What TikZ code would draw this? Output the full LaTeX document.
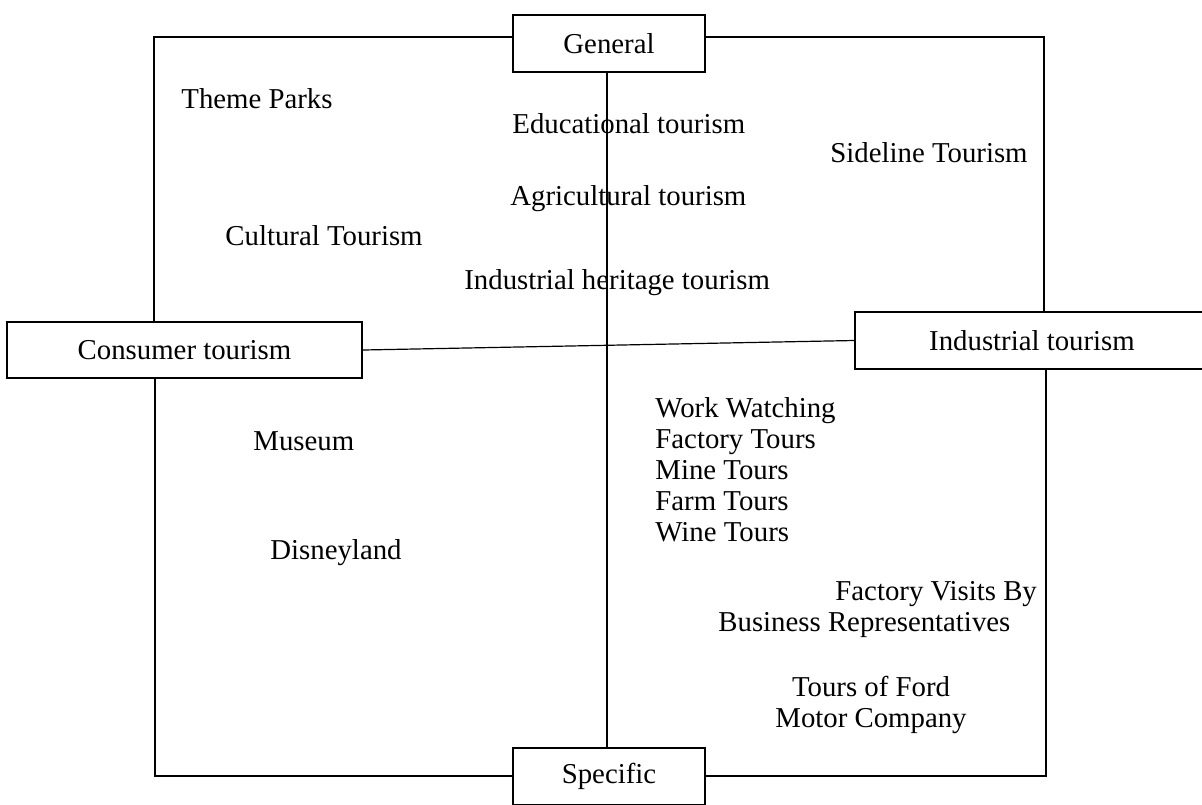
\documentclass[tikz,border=0pt]{standalone}
\usepackage{fontspec}
\setmainfont{Liberation Serif}
\begin{document}
\begin{tikzpicture}[x=0.5pt,y=-0.5pt,
  box/.style={draw, line width=1pt, rectangle, inner sep=0pt, font=\fontsize{14.4}{15.5}\selectfont},
  lbl/.style={anchor=base west, inner sep=0pt, font=\fontsize{14.4}{15.5}\selectfont},
  conn/.style={line width=0.6pt}]
\path[use as bounding box, clip] (0,0) rectangle (1202,804);
% boxes
\node[box, minimum width=96pt, minimum height=28.5pt] (gen) at (609,43.5) {General};
\node[box, minimum width=177.5pt, minimum height=28pt] (cons) at (184.5,350) {Consumer tourism};
\node[box, minimum width=177pt, minimum height=28.5pt] (ind) at (1032,340.5) {Industrial tourism};
\node[box, minimum width=96pt, minimum height=28.5pt] (spec) at (609,776) {Specific};
% frame corners
\coordinate (tl) at (154,37);
\coordinate (tr) at (1044,37);
\coordinate (bl) at (155,776);
\coordinate (br) at (1046,776);
\draw[conn] (gen.west |- tl) -- (tl) -- (cons.north -| tl);
\draw[conn] (gen.east |- tr) -- (tr) -- (ind.north -| tr);
\draw[conn] (cons.south -| bl) -- (bl) -- (spec.west |- bl);
\draw[conn] (ind.south -| br) -- (br) -- (spec.east |- br);
\draw[conn] (gen.south -| 607,0) -- (spec.north -| 607,0);
\draw[conn] (cons.east) -- (ind.west);
% labels
\node[lbl] (tp) at (181,108) {Theme Parks};
\node[lbl] (edu) at (512,133) {Educational tourism};
\node[lbl] (side) at (830,162) {Sideline Tourism};
\node[lbl] (agr) at (510,205) {Agricultural tourism};
\node[lbl] (cult) at (225,245) {Cultural Tourism};
\node[lbl] (ih) at (464,289) {Industrial heritage tourism};
\node[lbl] (mus) at (253,450) {Museum};
\node[lbl] (dis) at (270,559) {Disneyland};
\node[lbl, align=left] (ww) at (655,541) {Work Watching\\Factory Tours\\Mine Tours\\Farm Tours\\Wine Tours};
\node[lbl, align=left] (fv) at (718,631) {\hspace*{58.5pt}Factory Visits By\\Business Representatives};
\node[lbl, align=center, anchor=base] (ford) at (871,727) {Tours of Ford\\Motor Company};
\end{tikzpicture}
\end{document}
